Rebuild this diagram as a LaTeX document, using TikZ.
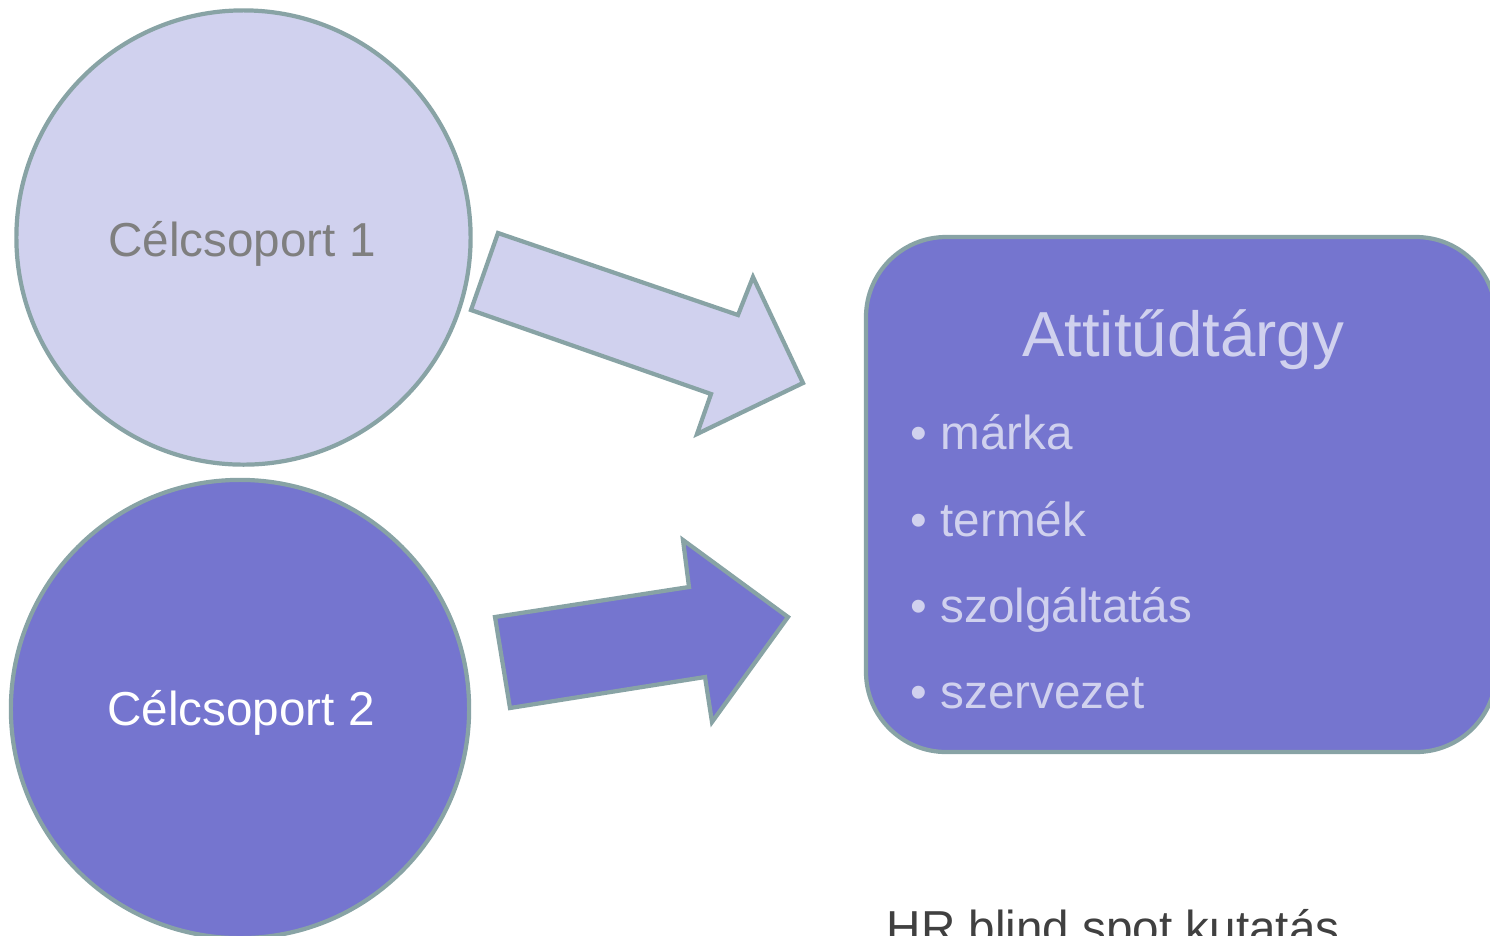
\documentclass[tikz,border=0pt]{standalone}
\usepackage{fontspec}
\setmainfont{Liberation Sans}
\usepackage{tikz}
\usetikzlibrary{positioning}

\definecolor{rim}{HTML}{88A3A5}
\definecolor{lila}{HTML}{D0D1EE}
\definecolor{violet}{HTML}{7575CF}
\definecolor{greytext}{HTML}{7F7F7F}
\definecolor{darktext}{HTML}{404040}

\begin{document}
\begin{tikzpicture}[
			x=0.01cm, y=-0.01cm,
			group/.style={draw=rim, line width=1.2pt, circle, minimum size=#1, inner sep=0pt},
			blockarrow/.style={draw=rim, line width=1.2pt, line join=miter},
			label/.style={inner sep=0pt, anchor=base, font=\fontsize{13.55pt}{16pt}\selectfont},
			item/.style={inner sep=0pt, anchor=base west, text=lila, font=\fontsize{13.55pt}{16pt}\selectfont},
			]
			\useasboundingbox (0,0) rectangle (1490,935);
			\clip (0,0) rectangle (1490,935);
			
			%% ── Target groups ─────────────────────────────────────────────
			\node[group=4.54cm, fill=lila]   (c1) at (243.5,237.5) {};
			\node[group=4.58cm, fill=violet] (c2) at (240,709)     {};
			\node[label, text=greytext] (c1text) at (242,256) {Célcsoport 1};
			\node[label, text=white]    (c2text) at (241,725)   {Célcsoport 2};
			
			%% ── Attitude object ───────────────────────────────────────────
			\draw[draw=rim, line width=1.2pt, fill=violet, rounded corners=0.8cm]
				(866,237) rectangle (1496,752);
			\node[label, text=lila, font=\fontsize{18.1pt}{22pt}\selectfont] (title) at (1183,356) {Attitűdtárgy};
			\node[item] (i1) at (910,449) {• márka};
			\node[item] (i2) at (910,536) {• termék};
			\node[item] (i3) at (910,622) {• szolgáltatás};
			\node[item] (i4) at (910,708) {• szervezet};
			
			%% ── Arrows ────────────────────────────────────────────────────
			\draw[blockarrow, fill=lila] (498,233) -- (738,315) -- (753,277) -- (803,383)
				-- (697,434) -- (711,394) -- (471,310) -- cycle;
			\draw[blockarrow, fill=violet] (495,617) -- (689,587) -- (683,540) -- (788,617)
				-- (712,722) -- (705,677) -- (510,708) -- cycle;
			
			\node[label, anchor=base west, text=darktext] (footer) at (886,944) {HR blind spot kutatás};
			
		\end{tikzpicture}
\end{document}
